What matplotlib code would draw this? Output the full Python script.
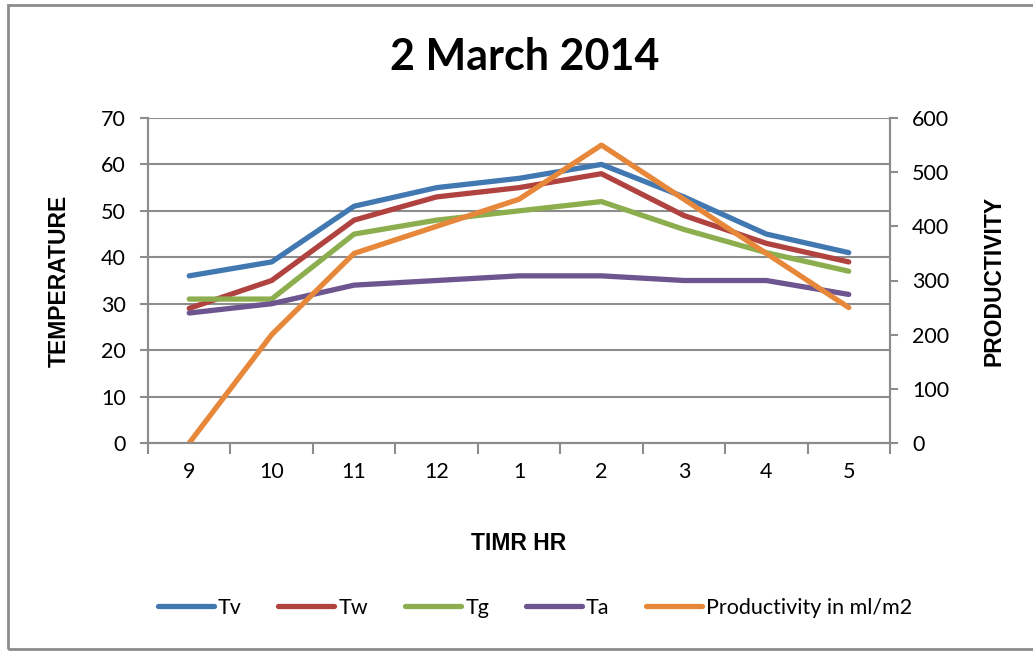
import matplotlib
matplotlib.use('Agg')
import matplotlib.pyplot as plt
from matplotlib.patches import Rectangle

hours = ['9', '10', '11', '12', '1', '2', '3', '4', '5']
tv = [36, 39, 51, 55, 57, 60, 53, 45, 41]
tw = [29, 35, 48, 53, 55, 58, 49, 43, 39]
tg = [31, 31, 45, 48, 50, 52, 46, 41, 37]
ta = [28, 30, 34, 35, 36, 36, 35, 35, 32]
productivity = [0, 200, 350, 400, 450, 550, 450, 350, 250]

plt.rcParams['font.family'] = ['Lato', 'DejaVu Sans']

fig = plt.figure(figsize=(10.33, 6.52), dpi=100)
ax = fig.add_axes([148/1033, 1-443/652, 742/1033, 325/652])
ax2 = ax.twinx()

# outer chart border
fig.patches.append(Rectangle((8/1033, 3/652), 1.0, 644/652, transform=fig.transFigure,
                             fill=False, edgecolor='#8c8c8c', linewidth=2))

x = range(len(hours))
lw = 3.8
ax.plot(x, tv, color='#4278b2', lw=lw, label='Tv', solid_capstyle='round')
ax.plot(x, tw, color='#b0423f', lw=lw, label='Tw', solid_capstyle='round')
ax.plot(x, tg, color='#8cae4e', lw=lw, label='Tg', solid_capstyle='round')
ax.plot(x, ta, color='#6d5590', lw=lw, label='Ta', solid_capstyle='round')
ax2.plot(x, productivity, color='#e6873a', lw=lw, label='Productivity in ml/m2', solid_capstyle='round')

ax.set_ylim(0, 70)
ax.set_yticks(range(0, 71, 10))
ax2.set_ylim(0, 600)
ax2.set_yticks(range(0, 601, 100))
ax.set_xlim(-0.5, len(hours) - 0.5)
ax.set_xticks(x)
ax.set_xticklabels(hours)
ax.set_xticks([i + 0.5 for i in range(-1, len(hours))], minor=True)
ax.tick_params(axis='x', which='major', length=0, pad=14, labelsize=15.5)
ax.tick_params(axis='x', which='minor', length=8, width=1.5, color='#8c8c8c')
ax.tick_params(axis='y', length=6, width=1.5, color='#8c8c8c', labelsize=15.5, pad=10)
ax2.tick_params(axis='y', length=6, width=1.5, color='#8c8c8c', labelsize=15.5, pad=10)

ax.grid(axis='y', color='#8c8c8c', linewidth=1.5)
ax.set_axisbelow(True)
for a in (ax, ax2):
    a.spines['top'].set_visible(False)
    for s in ('left', 'right', 'bottom'):
        a.spines[s].set_color('#8c8c8c')
        a.spines[s].set_linewidth(1.5)

lab = dict(family=['Liberation Sans', 'DejaVu Sans'], fontweight='bold', fontsize=16.5)
ax.set_ylabel('TEMPERATURE', labelpad=22, **lab)
ax2.set_ylabel('PRODUCTIVITY', labelpad=24, **lab)
ax.set_xlabel('TIMR HR', labelpad=36, **lab)

fig.suptitle('2 March 2014', x=525/1033, y=1-57/652, va='center',
             fontsize=31, fontweight='bold')

h1, l1 = ax.get_legend_handles_labels()
h2, l2 = ax2.get_legend_handles_labels()
fig.legend(h1 + h2, l1 + l2, loc='center', bbox_to_anchor=(535/1033, 1-608/652),
           ncol=5, frameon=False, fontsize=15.5, handlelength=2.6,
           handletextpad=0.2, columnspacing=1.7)

fig.savefig('out.png', dpi=100)
